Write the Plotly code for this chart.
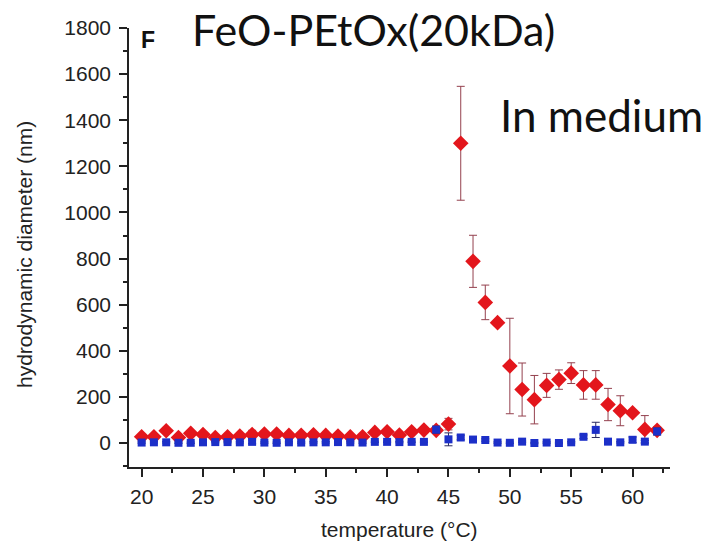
import plotly.graph_objects as go

# Temperature scan (°C)
temperature = list(range(20, 63))

# FeO-PEtOx(20kDa) in medium: hydrodynamic diameter (nm) and std. dev.
diam_red = [27, 27, 53, 24, 42, 37, 24, 27, 30, 37,
            39, 39, 33, 34, 36, 33, 30, 27, 27, 46,
            49, 35, 49, 56, 55, 82, 1300, 788, 610, 522,
            334, 232, 188, 250, 275, 303, 252, 252, 167, 140,
            131, 59, 55]
err_red = [6, 6, 8, 6, 6, 6, 6, 6, 6, 18,
           6, 6, 6, 6, 6, 6, 6, 6, 6, 6,
           6, 6, 6, 8, 10, 25, 247, 113, 75, 12,
           207, 115, 105, 52, 42, 45, 62, 62, 70, 65,
           12, 60, 15]

diam_blue = [2, 3, 3, 1, 1, 3, 4, 4, 3, 5,
             2, 1, 3, 2, 3, 3, 4, 3, 2, 5,
             5, 4, 5, 5, 58, 16, 24, 15, 13, 2,
             1, 6, 0, 2, 0, 3, 27, 57, 6, 3,
             14, 6, 50]
err_blue = [3, 3, 3, 3, 3, 3, 3, 3, 3, 8,
            3, 3, 3, 3, 3, 3, 3, 3, 3, 3,
            3, 3, 3, 3, 15, 28, 10, 5, 5, 3,
            3, 3, 3, 3, 3, 3, 8, 33, 5, 3,
            12, 5, 15]

x_ticks = [20, 25, 30, 35, 40, 45, 50, 55, 60]
y_ticks = [0, 200, 400, 600, 800, 1000, 1200, 1400, 1600, 1800]

W, H = 712, 553
L, R, T, B = 129, 42, 28, 86
pw, ph = W - L - R, H - T - B


def px(x):
    return (x - L) / pw


def py(y):
    return (H - B - y) / ph


fig = go.Figure()

fig.add_trace(go.Scatter(
    x=temperature, y=diam_red, mode="markers",
    marker=dict(symbol="diamond", size=12, color="#e3161c"),
    error_y=dict(type="data", array=err_red, visible=True,
                 color="#94404e", thickness=1, width=4),
    showlegend=False,
))
fig.add_trace(go.Scatter(
    x=temperature, y=diam_blue, mode="markers",
    marker=dict(symbol="square", size=8, color="#1c2fc8"),
    error_y=dict(type="data", array=err_blue, visible=True,
                 color="#2a2a60", thickness=1, width=4),
    showlegend=False,
))

sans = "Liberation Sans, Arial, sans-serif"
axis_font = dict(family=sans, size=21, color="#222")

fig.update_xaxes(
    range=[18.97, 63.05], tickvals=x_ticks, ticks="outside", ticklen=8,
    tickwidth=1.5, tickcolor="#222", showline=True, linecolor="#222",
    linewidth=1.5, showgrid=False, zeroline=False, tickfont=axis_font,
    ticklabelstandoff=2,
    minor=dict(dtick=2.5, tick0=20, ticks="outside", ticklen=4,
               tickwidth=1.5, tickcolor="#222"),
)
fig.update_yaxes(
    range=[-104, 1800], tickvals=y_ticks, ticks="outside", ticklen=8,
    tickwidth=1.5, tickcolor="#222", showline=True, linecolor="#222",
    linewidth=1.5, showgrid=False, zeroline=False, tickfont=axis_font,
    ticklabelstandoff=4,
    minor=dict(dtick=100, tick0=0, ticks="outside", ticklen=4,
               tickwidth=1.5, tickcolor="#222"),
)

# axis titles
fig.add_annotation(text="temperature (°C)", xref="paper", yref="paper",
                   x=px(399), y=py(529), xanchor="center", yanchor="middle",
                   showarrow=False, font=dict(family=sans, size=21, color="#222"))
fig.add_annotation(text="hydrodynamic diameter (nm)", xref="paper", yref="paper",
                   x=px(24), y=py(255), xanchor="center", yanchor="middle",
                   textangle=-90, showarrow=False,
                   font=dict(family=sans, size=21, color="#222"))

# panel headings
fig.add_annotation(text="FeO-PEtOx(20kDa)", xref="paper", yref="paper",
                   x=px(190), y=py(30), xanchor="left", yanchor="middle",
                   showarrow=False,
                   font=dict(family="Lato, sans-serif", size=43, color="#111"))
fig.add_annotation(text="In medium", xref="paper", yref="paper",
                   x=px(498), y=py(115), xanchor="left", yanchor="middle",
                   showarrow=False,
                   font=dict(family="Lato, sans-serif", size=44, color="#111"))
fig.add_annotation(text="<b>F</b>", xref="paper", yref="paper",
                   x=px(148), y=py(40), xanchor="center", yanchor="middle",
                   showarrow=False,
                   font=dict(family=sans, size=23, color="#111"))

fig.update_layout(
    width=W, height=H,
    margin=dict(l=L, r=R, t=T, b=B),
    paper_bgcolor="white", plot_bgcolor="white",
)

fig.write_html("out.html")
